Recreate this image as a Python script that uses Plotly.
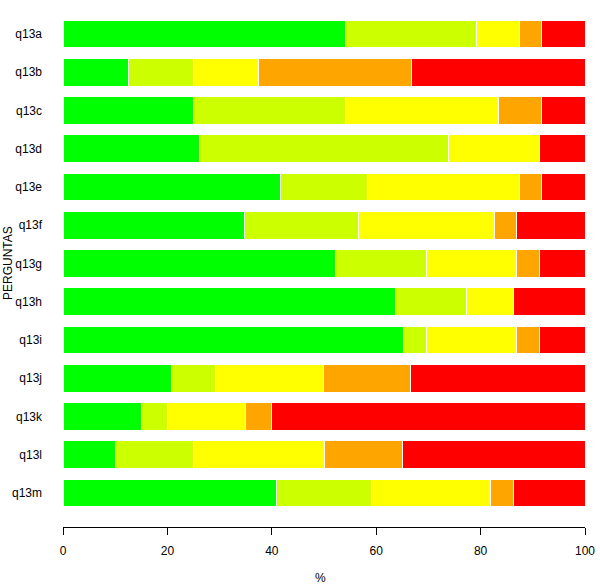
import plotly.graph_objects as go

categories = ["q13a", "q13b", "q13c", "q13d", "q13e", "q13f", "q13g",
              "q13h", "q13i", "q13j", "q13k", "q13l", "q13m"]
s1 = [54.17, 12.50, 25.00, 26.09, 41.67, 34.78, 52.17, 63.64, 65.22, 20.83, 15.0, 10.0, 40.91]
s2 = [25.00, 12.50, 29.17, 47.83, 16.67, 21.74, 17.39, 13.64, 4.35, 8.33, 5.0, 15.0, 18.18]
s3 = [8.33, 12.50, 29.17, 17.39, 29.17, 26.09, 17.39, 9.09, 17.39, 20.83, 15.0, 25.0, 22.73]
s4 = [4.17, 29.17, 8.33, 0.0, 4.17, 4.35, 4.35, 0.0, 4.35, 16.67, 5.0, 15.0, 4.55]
s5 = [8.33, 33.33, 8.33, 8.70, 8.33, 13.04, 8.70, 13.64, 8.70, 33.34, 60.0, 35.0, 13.64]
series = [s1, s2, s3, s4, s5]
colors = ["#00FF00", "#CCFF00", "#FFFF00", "#FFA500", "#FF0000"]
x_ticks = [0, 20, 40, 60, 80, 100]

order = categories[::-1]
fig = go.Figure()
for vals, col in zip(series, colors):
    fig.add_trace(go.Bar(
        y=categories, x=vals, orientation="h",
        marker=dict(color=col, line=dict(color="white", width=1)),
        showlegend=False, hoverinfo="x+y"))

W, H = 600, 585
ML, MR, MT, MB = 63, 15, 10, 58
plot_h = H - MT - MB
plot_w = W - ML - MR

fig.update_layout(
    barmode="stack", bargap=0.27,
    width=W, height=H,
    margin=dict(l=ML, r=MR, t=MT, b=MB, autoexpand=False),
    plot_bgcolor="white", paper_bgcolor="white",
    font=dict(family="Liberation Sans, Arial, sans-serif", size=12, color="black"),
    xaxis=dict(range=[0, 100], tickvals=x_ticks, ticks="outside", ticklen=7,
               tickcolor="black", showline=True, linecolor="black", linewidth=1,
               showgrid=False, zeroline=False, ticklabelstandoff=6, automargin=False),
    yaxis=dict(categoryorder="array", categoryarray=order,
               range=[-0.889, 12.627], showgrid=False, zeroline=False,
               showline=False, ticks="", ticklabelstandoff=20, automargin=False),
    annotations=[
        dict(text="%", xref="paper", yref="paper",
             x=(320 - ML) / plot_w, y=(H - MB - 578) / plot_h,
             xanchor="center", yanchor="middle", showarrow=False),
        dict(text="PERGUNTAS", xref="paper", yref="paper", textangle=-90,
             x=(8 - ML) / plot_w, y=(H - MB - 263) / plot_h,
             xanchor="center", yanchor="middle", showarrow=False),
    ],
)

fig.write_html("out.html", config={"displayModeBar": False},
               post_script="document.body.style.margin='0';document.body.style.overflow='hidden';")
